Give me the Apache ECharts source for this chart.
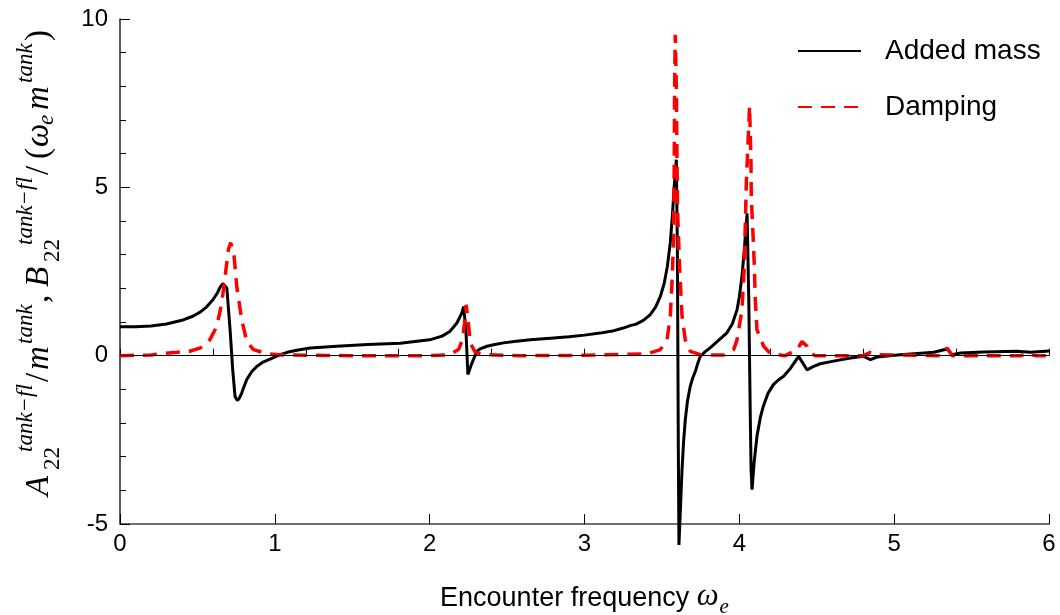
<!DOCTYPE html>
<html>
<head>
<meta charset="utf-8">
<script src="https://cdn.jsdelivr.net/npm/echarts@6/dist/echarts.min.js"></script>
<style>
  html, body { margin: 0; padding: 0; background: #ffffff; }
  #chart { width: 1060px; height: 615px; }
</style>
</head>
<body>
<div id="chart"></div>
<script>
// Sway added mass and damping of the tank fluid versus encounter frequency
const addedMassFreq = [
  0.00, 0.10, 0.20, 0.30, 0.40, 0.47, 0.52, 0.56, 0.60, 0.63,
  0.645, 0.664, 0.69, 0.711, 0.728, 0.743, 0.758, 0.77, 0.786, 0.80,
  0.819, 0.85, 0.883, 0.92, 0.969, 1.034, 1.08, 1.142, 1.228, 1.40,
  1.60, 1.81, 2.00, 2.08, 2.13, 2.176, 2.208, 2.219, 2.234, 2.247,
  2.273, 2.305, 2.33, 2.37, 2.42, 2.477, 2.56, 2.65, 2.78, 2.90,
  3.00, 3.10, 3.18, 3.25, 3.30, 3.33, 3.38, 3.425, 3.46, 3.49,
  3.515, 3.535, 3.554, 3.567, 3.58, 3.593, 3.60, 3.606, 3.61, 3.63,
  3.64, 3.651, 3.665, 3.683, 3.70, 3.716, 3.73, 3.748, 3.78, 3.813,
  3.86, 3.92, 3.955, 3.985, 4.00, 4.017, 4.032, 4.05, 4.061, 4.071,
  4.076, 4.082, 4.095, 4.114, 4.135, 4.155, 4.185, 4.22, 4.25, 4.286,
  4.33, 4.383, 4.437, 4.48, 4.523, 4.60, 4.717, 4.803, 4.847, 4.89,
  5.04, 5.256, 5.342, 5.374, 5.428, 5.579, 5.794, 5.88, 6.00
];
const addedMassValue = [
  0.86, 0.86, 0.88, 0.94, 1.05, 1.17, 1.30, 1.45, 1.66, 1.87,
  2.02, 2.14, 2.01, 0.77, -0.42, -1.21, -1.33, -1.27, -1.11, -0.93,
  -0.71, -0.48, -0.32, -0.20, -0.10, 0.03, 0.10, 0.16, 0.23, 0.28,
  0.33, 0.37, 0.47, 0.58, 0.72, 0.97, 1.27, 1.46, 0.77, -0.56,
  -0.22, 0.13, 0.21, 0.28, 0.33, 0.38, 0.43, 0.47, 0.52, 0.56,
  0.61, 0.67, 0.73, 0.82, 0.90, 0.93, 1.05, 1.22, 1.45, 1.76,
  2.15, 2.65, 3.35, 4.12, 5.07, 5.82, 3.15, -2.79, -5.62, -3.38,
  -2.55, -1.90, -1.35, -0.91, -0.65, -0.47, -0.25, -0.02, 0.12, 0.24,
  0.43, 0.68, 0.95, 1.36, 1.75, 2.35, 3.15, 4.23, 1.66, -1.90,
  -3.40, -3.98, -3.20, -2.39, -1.85, -1.50, -1.12, -0.86, -0.73, -0.61,
  -0.38, -0.02, -0.42, -0.32, -0.24, -0.17, -0.07, -0.02, -0.12, -0.04,
  0.03, 0.10, 0.20, 0.03, 0.08, 0.11, 0.13, 0.10, 0.14
];

const dampingFreq = [
  0.00, 0.20, 0.26, 0.37, 0.45, 0.52, 0.58, 0.625, 0.657, 0.679,
  0.70, 0.715, 0.737, 0.754, 0.786, 0.819, 0.862, 0.948, 1.05, 1.50,
  2.00, 2.13, 2.186, 2.212, 2.225, 2.236, 2.25, 2.262, 2.294, 2.35,
  2.60, 3.00, 3.25, 3.40, 3.49, 3.533, 3.554, 3.565, 3.575, 3.58,
  3.582, 3.586, 3.593, 3.597, 3.601, 3.614, 3.63, 3.651, 3.683, 3.748,
  3.80, 3.90, 3.963, 3.985, 4.017, 4.032, 4.045, 4.056, 4.066, 4.075,
  4.077, 4.088, 4.097, 4.103, 4.114, 4.157, 4.20, 4.297, 4.373, 4.405,
  4.437, 4.459, 4.491, 4.80, 4.847, 4.89, 5.30, 5.342, 5.364, 5.374,
  5.82, 5.86, 5.91, 6.00
];
const dampingValue = [
  0.00, 0.02, 0.06, 0.10, 0.13, 0.23, 0.47, 0.87, 1.56, 2.35,
  3.15, 3.36, 2.95, 2.06, 1.07, 0.42, 0.18, 0.06, 0.02, 0.00,
  0.00, 0.03, 0.18, 0.47, 0.97, 1.51, 0.97, 0.38, 0.10, 0.03,
  0.00, 0.01, 0.04, 0.05, 0.18, 0.47, 1.17, 2.16, 3.44, 6.02,
  7.99, 9.53, 7.99, 6.02, 4.33, 2.65, 1.17, 0.47, 0.13, 0.03,
  0.02, 0.02, 0.18, 0.47, 1.36, 2.65, 5.12, 6.31, 7.42, 5.82,
  4.73, 3.64, 2.65, 1.66, 0.77, 0.28, 0.06, 0.00, 0.18, 0.42,
  0.28, 0.08, 0.00, 0.00, 0.10, 0.03, 0.00, 0.23, 0.08, 0.00,
  0.00, 0.08, 0.00, 0.00
];

const seriesNames = ['Added mass', 'Damping'];
const xRange = [0, 6];
const yRange = [-5, 10];

const pairs = (xs, ys) => xs.map((x, i) => [x, ys[i]]);

const sans = '"Liberation Sans", Arial, Helvetica, sans-serif';
const serif = '"Liberation Serif", "Times New Roman", serif';

// pieces of the rotated y-axis title, laid out along the reading direction
const mainFont = 'italic 33px ' + serif;
const uprightFont = '33px ' + serif;
const scriptFont = 'italic 23px ' + serif;
const scriptUpright = '23px ' + serif;
const BASE = 39, SUP = 26, SUB = 53;
function piece(text, along, across, font) {
  return {
    type: 'text', x: along, y: across,
    style: { text: text, font: font, fill: '#000', align: 'left', verticalAlign: 'middle' }
  };
}
const yTitle = {
  type: 'group', x: 0, y: 500, rotation: Math.PI / 2,
  children: [
    piece('A', 4, BASE, mainFont),
    piece('22', 30, SUB, scriptUpright),
    piece('tank\u2212fl', 48, SUP, scriptFont),
    piece('/', 118, BASE, uprightFont),
    piece('m', 130, BASE, mainFont),
    piece('tank', 156, SUP, scriptFont),
    piece(',', 197, BASE, uprightFont),
    piece('B', 213, BASE, mainFont),
    piece('22', 238, SUB, scriptUpright),
    piece('tank\u2212fl', 255, SUP, scriptFont),
    piece('/', 325, BASE, uprightFont),
    piece('(', 341, BASE, uprightFont),
    piece('\u03c9', 353, BASE, mainFont),
    piece('e', 375, SUB - 6, scriptFont),
    piece('m', 390, BASE, mainFont),
    piece('tank', 417, SUP, scriptFont),
    piece(')', 459, BASE, uprightFont)
  ]
};

const chart = echarts.init(document.getElementById('chart'), null, { renderer: 'canvas' });
chart.setOption({
  backgroundColor: '#ffffff',
  animation: false,
  grid: { left: 120, right: 11, top: 19, bottom: 91, containLabel: false, outerBoundsMode: 'none' },
  legend: {
    orient: 'vertical', left: 792, top: 32,
    itemWidth: 63, itemHeight: 14, itemGap: 28,
    data: seriesNames,
    itemStyle: { opacity: 0 },
    textStyle: { fontFamily: sans, fontSize: 28, color: '#000', padding: [0, 0, 0, 19] }
  },
  graphic: [yTitle],
  xAxis: [
    {
      type: 'value', min: xRange[0], max: xRange[1], interval: 1,
      name: '{s|Encounter frequency }{w|\u03c9}{e|e}',
      nameLocation: 'middle', nameGap: 57,
      nameTextStyle: {
        rich: {
          s: { fontFamily: sans, fontSize: 27, color: '#000', verticalAlign: 'bottom', padding: [0, 0, 6, 0] },
          w: { fontFamily: serif, fontStyle: 'italic', fontSize: 31, color: '#000', verticalAlign: 'bottom', padding: [0, 0, 6, 0] },
          e: { fontFamily: serif, fontStyle: 'italic', fontSize: 21, color: '#000', verticalAlign: 'bottom', padding: [0, 0, 0, 1] }
        }
      },
      axisLine: { show: true, onZero: false, lineStyle: { color: '#707070', width: 2 } },
      axisTick: { show: true, inside: true, length: 10, lineStyle: { color: '#000', width: 1 } },
      axisLabel: { fontFamily: sans, fontSize: 24, color: '#000', margin: 8 },
      splitLine: { show: false }
    },
    {
      type: 'value', min: xRange[0], max: xRange[1], interval: 0.6,
      position: 'bottom',
      axisLine: { show: false },
      axisTick: { show: true, inside: true, length: 7, lineStyle: { color: '#000', width: 1 } },
      axisLabel: { show: false },
      splitLine: { show: false }
    }
  ],
  yAxis: {
    type: 'value', min: yRange[0], max: yRange[1], interval: 5,
    axisLine: { show: true, onZero: false, lineStyle: { color: '#222', width: 1.5 } },
    axisTick: { show: true, inside: true, length: 10, lineStyle: { color: '#000', width: 1 } },
    minorTick: { show: true, splitNumber: 5, length: 6, lineStyle: { color: '#000', width: 1 } },
    axisLabel: { fontFamily: sans, fontSize: 24, color: '#000', margin: 12 },
    splitLine: { show: false }
  },
  series: [
    {
      name: seriesNames[0], type: 'line', xAxisIndex: 0,
      data: pairs(addedMassFreq, addedMassValue),
      symbol: 'none', clip: false, smooth: false,
      lineStyle: { color: '#000', width: 3 },
      itemStyle: { color: '#000' },
      markLine: {
        silent: true, symbol: 'none', label: { show: false },
        lineStyle: { color: '#000', width: 1, type: 'solid' },
        data: [{ yAxis: 0 }]
      },
      z: 3
    },
    {
      name: seriesNames[1], type: 'line', xAxisIndex: 0,
      data: pairs(dampingFreq, dampingValue),
      symbol: 'none', clip: false, smooth: false,
      lineStyle: { color: '#ff0000', width: 3.5, type: [14, 9] },
      itemStyle: { color: '#ff0000' },
      z: 4
    }
  ]
});
</script>
</body>
</html>
